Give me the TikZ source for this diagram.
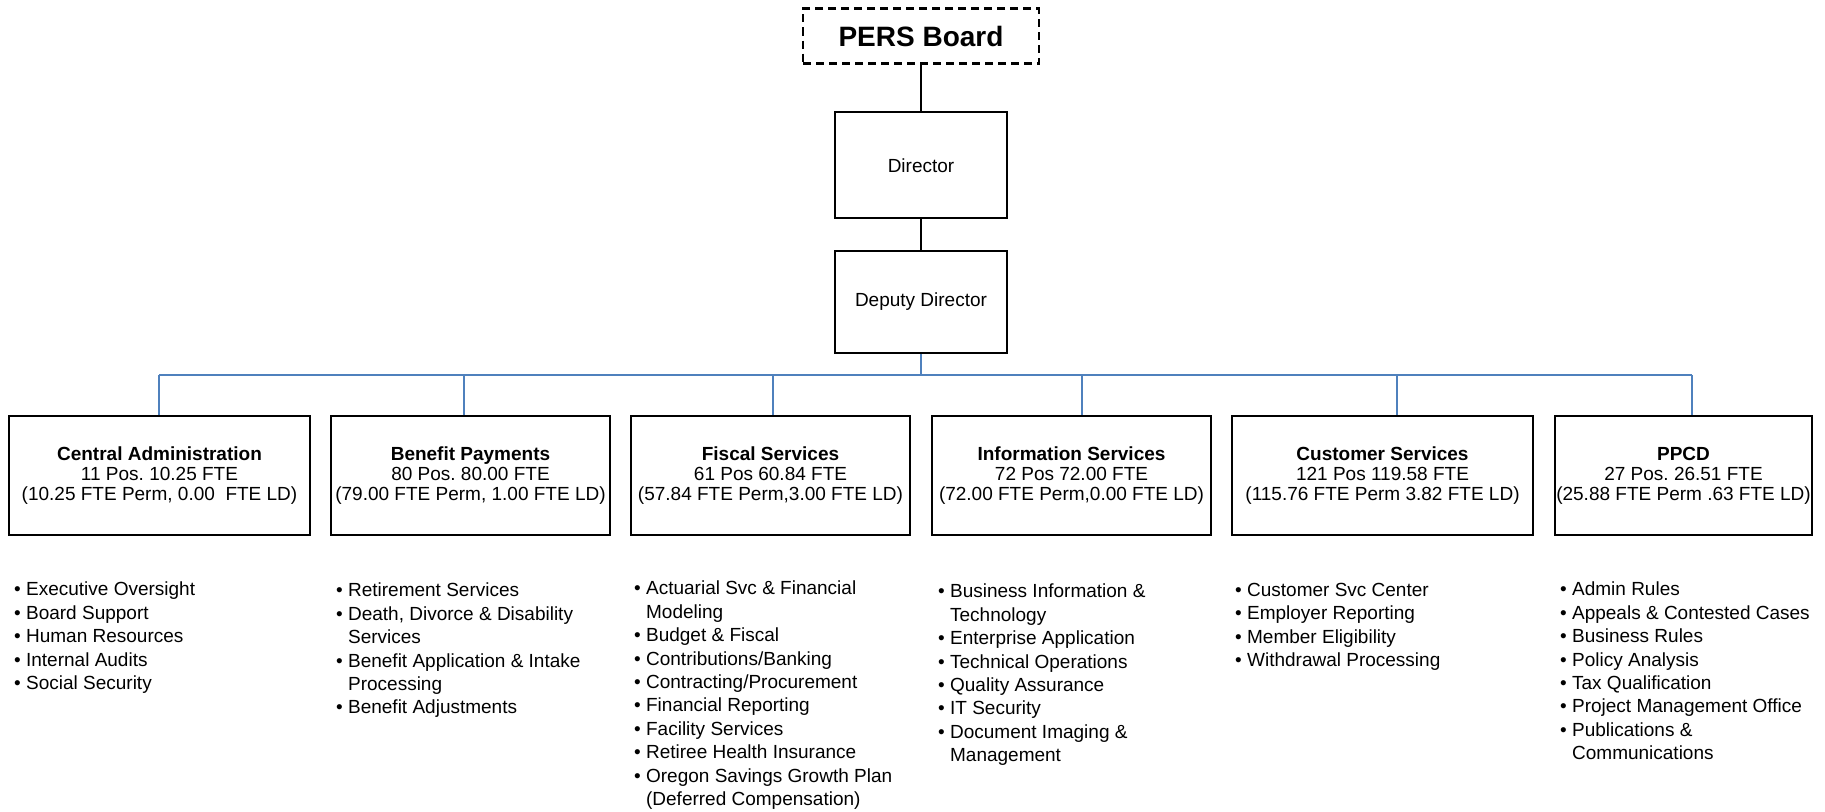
\documentclass[tikz,border=0pt]{standalone}
\usepackage{fontspec}
\setmainfont{Liberation Sans}
\usepackage{xcolor}
\usetikzlibrary{positioning,calc}
\frenchspacing
\definecolor{cBus}{HTML}{4F81BD}
\definecolor{cLine}{HTML}{000000}
\newcommand{\bul}{\textbullet\ }
\newcommand{\bulgap}{\phantom{\textbullet\ }}
\tikzset{
  board/.style={draw=cLine,dash pattern=on 8pt off 5pt,line width=2.2pt,
                minimum width=236pt,minimum height=55pt,inner sep=0pt,
                font=\fontsize{28}{32}\selectfont\bfseries},
  head/.style ={draw=cLine,line width=1.8pt,minimum width=172pt,
                minimum height=#1,inner sep=0pt,font=\fontsize{19}{22}\selectfont},
  dept/.style ={draw=cLine,line width=1.8pt,minimum width=#1,minimum height=119pt,
                inner sep=0pt,align=center,font=\fontsize{19}{20}\selectfont},
  duties/.style={anchor=north west,inner sep=0pt,align=left,
                font=\fontsize{19}{23.4}\selectfont},
  link/.style={line width=1.4pt,draw=cLine},
  bus/.style ={line width=1.6pt,draw=cBus},
}

\begin{document}
\begin{tikzpicture}[x=1pt,y=-1pt]
\useasboundingbox (0,0) rectangle (1825,811);

% ---------------------------------------------------------------- TOP
\node[board] (pers) at (921,36) {PERS Board};
\node[head=106pt] (dir) at (921,165.3) {Director};
\node[head=102.6pt] (dep) at (921,302) {Deputy Director};

% ---------------------------------------------------------------- DIVISIONS
\node[dept=301pt] (ca) at (159.5,475.5) {%
\textbf{Central Administration}\\
11 Pos. 10.25 FTE\\
(10.25 FTE Perm, 0.00 \ FTE LD)};

\node[dept=279pt] (bp) at (470.5,475.5) {%
\textbf{Benefit Payments}\\
80 Pos. 80.00 FTE\\
(79.00 FTE Perm, 1.00 FTE LD)};

\node[dept=279pt] (fs) at (770.5,475.5) {%
\textbf{Fiscal Services}\\
61 Pos 60.84 FTE\\
(57.84 FTE Perm,3.00 FTE LD)};

\node[dept=279pt] (is) at (1071.5,475.5) {%
\textbf{Information Services}\\
72 Pos 72.00 FTE\\
(72.00 FTE Perm,0.00 FTE LD)};

\node[dept=301pt] (cs) at (1382.5,475.5) {%
\textbf{Customer Services}\\
121 Pos 119.58 FTE\\
(115.76 FTE Perm 3.82 FTE LD)};

\node[dept=257pt] (pp) at (1683.5,475.5) {%
\textbf{PPCD}\\
27 Pos. 26.51 FTE\\
(25.88 FTE Perm .63 FTE LD)};

% ---------------------------------------------------------------- DUTIES
\node[duties] (lca) at (14,582) {%
\bul Executive Oversight\\
\bul Board Support\\
\bul Human Resources\\
\bul Internal Audits\\
\bul Social Security};

\node[duties] (lbp) at (336,583) {%
\bul Retirement Services\\
\bul Death, Divorce \& Disability\\
\bulgap Services\\
\bul Benefit Application \& Intake\\
\bulgap Processing\\
\bul Benefit Adjustments};

\node[duties] (lfs) at (634,581) {%
\bul Actuarial Svc \& Financial\\
\bulgap Modeling\\
\bul Budget \& Fiscal\\
\bul Contributions/Banking\\
\bul Contracting/Procurement\\
\bul Financial Reporting\\
\bul Facility Services\\
\bul Retiree Health Insurance\\
\bul Oregon Savings Growth Plan\\
\bulgap (Deferred Compensation)};

\node[duties] (lis) at (938,584) {%
\bul Business Information \&\\
\bulgap Technology\\
\bul Enterprise Application\\
\bul Technical Operations\\
\bul Quality Assurance\\
\bul IT Security\\
\bul Document Imaging \&\\
\bulgap Management};

\node[duties] (lcs) at (1235,583) {%
\bul Customer Svc Center\\
\bul Employer Reporting\\
\bul Member Eligibility\\
\bul Withdrawal Processing};

\node[duties] (lpp) at (1560,582) {%
\bul Admin Rules\\
\bul Appeals \& Contested Cases\\
\bul Business Rules\\
\bul Policy Analysis\\
\bul Tax Qualification\\
\bul Project Management Office\\
\bul Publications \&\\
\bulgap Communications};

% ---------------------------------------------------------------- lines
\coordinate (hub) at (921,375);
\coordinate (dca) at (159,375);
\coordinate (dbp) at (464,375);
\coordinate (dfs) at (773,375);
\coordinate (dis) at (1082,375);
\coordinate (dcs) at (1397,375);
\coordinate (dpp) at (1692,375);

\draw[link] (pers) -- (dir);
\draw[link] (dir) -- (dep);
\draw[bus] (dep.south) -- (hub);
\draw[bus] (dca) -- (dpp);

\draw[bus] (dca) -- (dca |- ca.north);
\draw[bus] (dbp) -- (dbp |- bp.north);
\draw[bus] (dfs) -- (dfs |- fs.north);
\draw[bus] (dis) -- (dis |- is.north);
\draw[bus] (dcs) -- (dcs |- cs.north);
\draw[bus] (dpp) -- (dpp |- pp.north);

\end{tikzpicture}
\end{document}
